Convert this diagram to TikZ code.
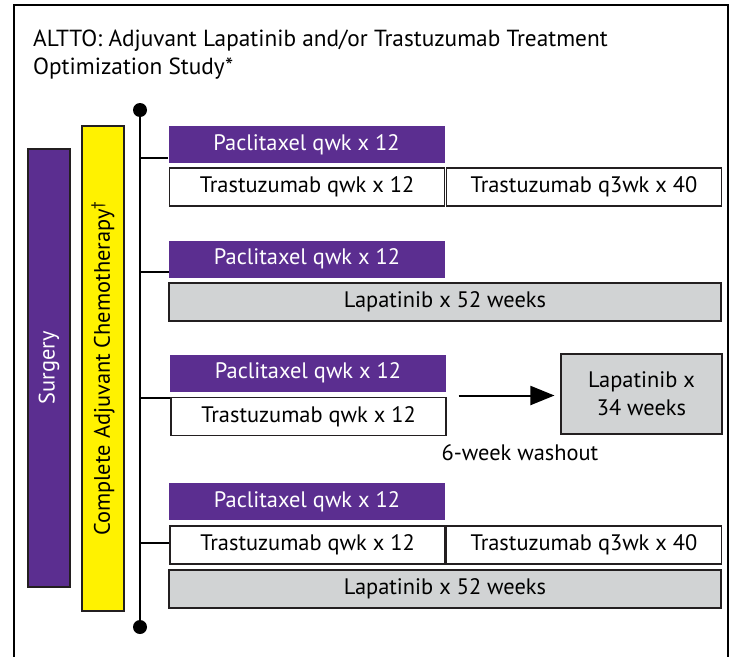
\documentclass[tikz,border=0pt]{standalone}
\usepackage{fontspec}
\setmainfont{PT Sans}
\usepackage{tikz}
\usetikzlibrary{arrows.meta}

\definecolor{altpurple}{RGB}{91,46,144}
\definecolor{altyellow}{RGB}{255,242,0}
\definecolor{altgray}{RGB}{209,211,212}
\definecolor{altline}{RGB}{35,31,32}

\begin{document}
\begin{tikzpicture}[x=1pt, y=-1pt,
    boxtext/.style={font=\fontsize{22.4}{27}\selectfont},
    pacbox/.style={boxtext, fill=altpurple, text=white, inner sep=0pt,
      minimum width=276pt, minimum height=37pt},
    trbox/.style={boxtext, draw=altline, line width=1.1pt, fill=white,
      inner sep=0pt, minimum width=275pt, minimum height=38pt},
    lapbox/.style={trbox, fill=altgray, minimum width=552pt},
    bar/.style={boxtext, draw=altline, line width=1.1pt, rotate=90,
      inner sep=0pt, minimum height=42pt}]
  \useasboundingbox (0, 0) rectangle (733, 656);
  % outer frame, open at the bottom
  \draw[line width=2pt] (14, 660) -- (14, 5) -- (728, 5) -- (728, 660);
  \node[anchor=north west, align=left, inner sep=0pt,
    font=\fontsize{23.3}{28}\selectfont] (title) at (33, 30)
    {ALTTO: Adjuvant Lapatinib and/or Trastuzumab Treatment\\
     Optimization Study*};
  % left bars
  \node[bar, fill=altpurple, text=white, minimum width=438pt] (surgery)
    at (49, 368) {Surgery};
  \node[bar, fill=altyellow, minimum width=485pt] (chemo)
    at (103, 368.5) {Complete Adjuvant Chemotherapy\textsuperscript{†}};
  % arm 1
  \node[pacbox] (pac1) at (306.5, 144.5) {Paclitaxel qwk x 12};
  \node[trbox] (tq1) at (307, 187) {Trastuzumab qwk x 12};
  \node[trbox] (tw1) at (584, 187) {Trastuzumab q3wk x 40};
  % arm 2
  \node[pacbox] (pac2) at (307, 259) {Paclitaxel qwk x 12};
  \node[lapbox] (lap2) at (445, 302) {Lapatinib x 52 weeks};
  % arm 3
  \node[pacbox] (pac3) at (308, 373) {Paclitaxel qwk x 12};
  \node[trbox] (tq3) at (308.5, 416.5) {Trastuzumab qwk x 12};
  \node[trbox, fill=altgray, align=center, minimum width=161pt,
    minimum height=80pt, font=\fontsize{22.4}{28}\selectfont] (lap3)
    at (641.5, 394) {Lapatinib x\\34 weeks};
  \node[boxtext] (washout) at (520, 453) {6-week washout};
  \draw[line width=2pt, -{Triangle[length=24pt, width=19pt]}]
    ([xshift=12pt, yshift=-1.5pt]tq3.east |- lap3.west)
    -- ([xshift=-6pt, yshift=-1.5pt]lap3.west);
  % arm 4
  \node[pacbox] (pac4) at (307, 501.5) {Paclitaxel qwk x 12};
  \node[trbox] (tq4) at (307.5, 545) {Trastuzumab qwk x 12};
  \node[trbox] (tw4) at (584, 545) {Trastuzumab q3wk x 40};
  \node[lapbox] (lap4) at (445, 589) {Lapatinib x 52 weeks};
  % randomisation trunk
  \coordinate (top) at (140, 110);
  \coordinate (bot) at (140, 627);
  \draw[line width=2pt] (top) -- (bot);
  \fill (top) circle (7pt);
  \fill (bot) circle (7pt);
  \foreach \arm/\dy in {pac1/-13.5, pac2/-13, tq3/18.5, tq4/2} {
    \coordinate (join) at ([yshift=\dy pt]\arm.west);
    \draw[line width=2pt] (top |- join) -- (join);
  }
\end{tikzpicture}
\end{document}
